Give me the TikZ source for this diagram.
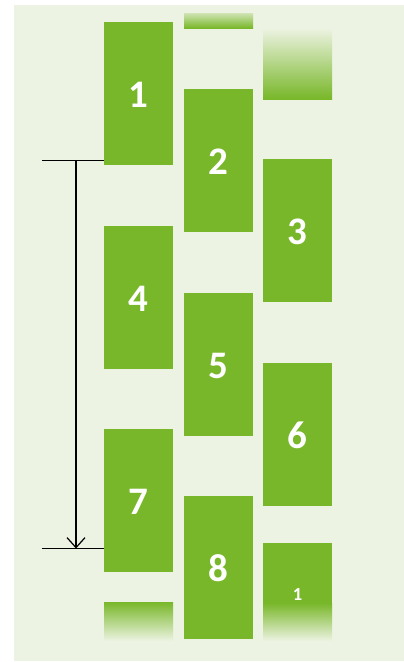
\documentclass[tikz,border=0pt]{standalone}
\usepackage{fontspec}
\setmainfont{Carlito}
\usetikzlibrary{arrows.meta}
\definecolor{slot}{RGB}{120,183,41}
\definecolor{pane}{RGB}{237,243,226}

\begin{document}
\begin{tikzpicture}[
    x=1pt, y=-1pt,
    tile/.style={fill=slot, minimum width=69pt, minimum height=143pt, inner sep=0pt, text=white, text height=28.5pt, text depth=0pt, font=\bfseries\fontsize{39}{39}\selectfont},
    span/.style={line width=1.2pt, -{Straight Barb[length=10pt, width=18pt, line width=1.2pt]}},
    tick/.style={line width=1.1pt}
]
\useasboundingbox (0,0) rectangle (404,662);
\fill[pane] (14,5) rectangle (404,661);
% column one
\node[tile] (t1) at (138.5,93.5) {1};
\node[tile] (t4) at (138.5,297.5) {4};
\node[tile] (t7) at (138.5,500.5) {7};
\shade[top color=slot, bottom color=pane] (104,602) rectangle (173,641);
% column two
\shade[top color=slot!25!pane, bottom color=slot] (184,13) rectangle (253,28);
\node[tile] (t2) at (218.5,160.5) {2};
\node[tile] (t5) at (218.5,364.5) {5};
\node[tile] (t8) at (218.5,567.5) {8};
% column three
\shade[top color=pane, bottom color=slot] (263,28) rectangle (332,99);
\node[tile] (t3) at (297.5,230.5) {3};
\node[tile] (t6) at (297.5,434.5) {6};
\fill[slot] (263,543) rectangle (332,603.5);
\shade[top color=slot, bottom color=pane] (263,603) rectangle (332,641);
\node[text=white, font=\bfseries\fontsize{18.5}{18.5}\selectfont] (t9) at (297.5,594) {1};
% scroll distance
\coordinate (ltop) at (42,160.5);
\coordinate (lbot) at (42,548.5);
\coordinate (mtop) at (76,160.5);
\coordinate (mbot) at (76,548.5);
\draw[tick] (ltop) -- (ltop -| t1.west);
\draw[tick] (lbot) -- (lbot -| t7.west);
\draw[span] (mtop) -- (mbot);
\end{tikzpicture}
\end{document}
